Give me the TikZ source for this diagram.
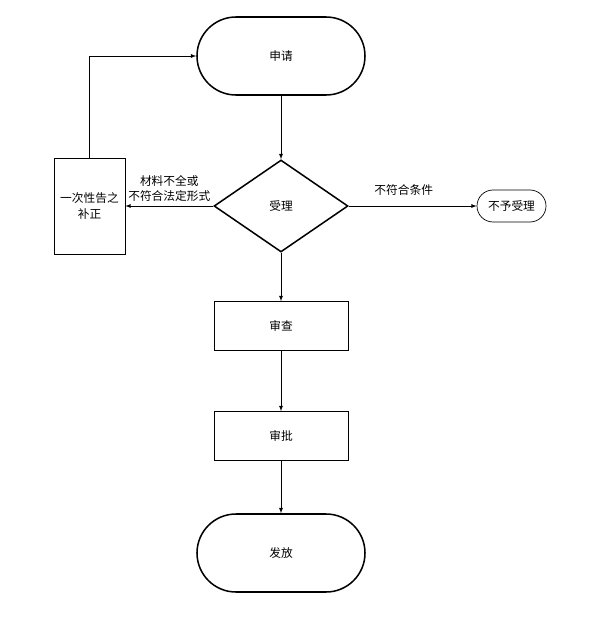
\documentclass[tikz,border=0pt]{standalone}
\usepackage{fontspec}
\setmainfont{Noto Sans CJK SC}
\usetikzlibrary{shapes.geometric}

\begin{document}
\begin{tikzpicture}[x=0.03cm, y=-0.03cm, >=latex,
    font=\fontsize{10}{13}\selectfont,
    terminal/.style={draw, line width=1.3pt, rectangle, rounded corners=1.17cm,
      minimum width=5.04cm, minimum height=2.34cm},
    process/.style={draw, line width=0.6pt, rectangle,
      minimum width=4.02cm, minimum height=1.47cm},
    flow/.style={->, line width=0.6pt}]
  \useasboundingbox (0,0) rectangle (599,618);
  %% Main column
  \node[terminal] (apply) at (281,56) {申请};
  \node[draw, line width=1.3pt, diamond, inner sep=0pt,
    minimum width=4.02cm, minimum height=2.76cm] (accept) at (281,206) {受理};
  \node[process] (review) at (281,326) {审查};
  \node[process] (approve) at (281,436) {审批};
  \node[terminal] (issue) at (281,553) {发放};
  %% Side boxes
  \node[draw, line width=0.6pt, minimum width=2.13cm, minimum height=2.88cm,
    align=center, inner sep=1pt] (notice) at (89.5,206) {一次性告之\\补正};
  \node[draw, line width=0.6pt, rounded corners=0.48cm,
    minimum width=2.07cm, minimum height=0.96cm] (reject) at (511.5,206) {不予受理};
  %% Connectors
  \draw[flow] (apply) -- (accept);
  \draw[flow] (accept) -- (review);
  \draw[flow] (review) -- (approve);
  \draw[flow] (approve) -- (issue);
  \draw[flow] (accept.west) -- (notice.east)
    node[midway, above, align=center] {材料不全或\\不符合法定形式};
  \draw[flow] (notice.north) |- (apply.west);
  \draw[flow] (accept.east) -- (reject.west)
    node[pos=0.43, above=5pt] {不符合条件};
\end{tikzpicture}
\end{document}
